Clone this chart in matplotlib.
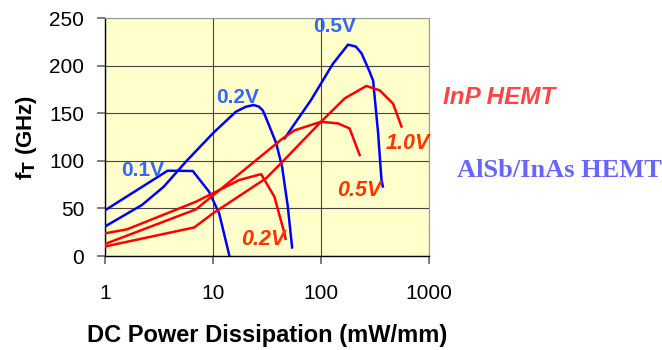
import matplotlib
matplotlib.use("Agg")
import matplotlib.pyplot as plt

plt.rcParams['font.family'] = ['Liberation Sans', 'DejaVu Sans']

# --- dados (x em mW/mm, y em GHz) ---
# AlSb/InAs HEMT (azul)
azul_01_x = [1, 3.8, 6.5, 9.2, 11.4, 14.2]
azul_01_y = [48, 89.6, 89.3, 67.5, 44.8, 0]
azul_02_x = [1, 2.2, 3.5, 5.6, 10, 16.3, 20.2, 23.7, 26.5, 28.9, 31, 38.5, 43.6, 49.3, 54]
azul_02_y = [31, 53.6, 72.8, 99, 129, 151.6, 156.8, 158.6, 157, 153, 145, 118.4, 93.8, 51.8, 9]
azul_05_x = [46, 81, 129, 178, 210, 237, 282, 304, 338, 363, 374]
azul_05_y = [123.6, 164, 202, 222, 220, 213, 193.6, 184, 129, 80, 73]

# InP HEMT (vermelho)
verm_02_x = [1, 1.6, 6.95, 17.5, 27.9, 37, 45.9, 47]
verm_02_y = [23.8, 28, 57, 79.8, 86, 62.3, 23.8, 18]
verm_05_x = [1, 6.95, 44.3, 56.9, 100, 143.6, 184, 228]
verm_05_y = [12.6, 49, 123.6, 132, 141, 139.3, 134, 106]
verm_10_x = [1, 6.7, 10, 31, 44, 100, 166, 263, 350, 465, 556]
verm_10_y = [10, 30, 44.8, 81.6, 99, 141, 165.6, 178.6, 174, 160, 136]

x_ticks = [1, 10, 100, 1000]
x_tick_labels = ['1', '10', '100', '1000']
y_ticks = [0, 50, 100, 150, 200, 250]

fig = plt.figure(figsize=(6.62, 3.5), dpi=100)
ax = fig.add_axes([105 / 662, 94 / 350, 324 / 662, 238 / 350])
ax.set_facecolor('#ffffcc')

azul = '#0000ff'
verm = '#ff0000'
for xs, ys in [(azul_01_x, azul_01_y), (azul_02_x, azul_02_y), (azul_05_x, azul_05_y)]:
    ax.plot(xs, ys, color=azul, lw=1.8, zorder=3)
for xs, ys in [(verm_02_x, verm_02_y), (verm_05_x, verm_05_y), (verm_10_x, verm_10_y)]:
    ax.plot(xs, ys, color=verm, lw=1.8, zorder=3)

ax.set_xscale('log')
ax.set_xlim(1, 1000)
ax.set_ylim(0, 250)
ax.set_xticks(x_ticks)
ax.set_xticklabels(x_tick_labels)
ax.minorticks_off()
ax.set_yticks(y_ticks)
ax.grid(True, color='#444444', lw=0.8, zorder=1)
ax.set_axisbelow(True)

for s in ['top', 'right']:
    ax.spines[s].set_color('#999999')
for s in ['left', 'bottom']:
    ax.spines[s].set_color('black')
    ax.spines[s].set_linewidth(1.0)
ax.tick_params(axis='both', labelsize=15, color='#666666', length=6, width=1.2)
ax.tick_params(axis='x', pad=14)
ax.tick_params(axis='y', pad=9)

ax.set_xlabel('DC Power Dissipation (mW/mm)', fontsize=17, fontweight='bold', labelpad=15)
ax.set_ylabel(r'f$_\mathbf{T}$ (GHz)', fontsize=16, fontweight='bold', labelpad=7)

# rotulos das curvas
cor_azul_txt = '#3366ff'
cor_verm_txt = '#ff3300'
kw_azul = dict(color=cor_azul_txt, fontsize=15, fontweight='bold', ha='left', va='center')
kw_verm = dict(color=cor_verm_txt, fontsize=15.5, fontweight='bold', style='italic', ha='left', va='center')
ax.text(1.41, 90, '0.1V', **kw_azul)
ax.text(10.7, 167, '0.2V', **kw_azul)
ax.text(84, 241, '0.5V', **kw_azul)
ax.text(18.2, 17, '0.2V', **kw_verm)
ax.text(140, 69, '0.5V', **kw_verm)
ax.text(400, 118, '1.0V', **kw_verm)

fig.text(443 / 662, 1 - 97 / 350, 'InP HEMT', color='#ff4444', fontsize=17.5, fontweight='bold',
         style='italic', ha='left', va='center')
fig.text(457 / 662, 1 - 170 / 350, 'AlSb/InAs HEMT', color='#6666ff', fontsize=19, fontweight='bold',
         family=['Liberation Serif', 'DejaVu Serif'], ha='left', va='center')

fig.savefig('out.png', dpi=100)
